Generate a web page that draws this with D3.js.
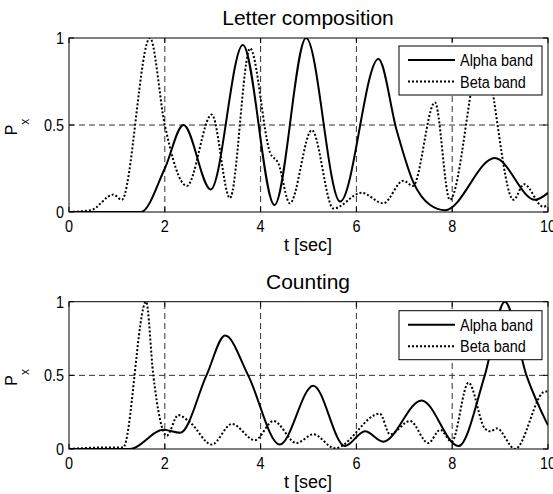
<!DOCTYPE html>
<html>
<head>
<meta charset="utf-8">
<script src="https://cdn.jsdelivr.net/npm/d3@7"></script>
<style>
  body { margin: 0; background: #fff; }
  text { fill: #000; }
  .tick-lbl { font-family: "Liberation Sans", Arial, sans-serif; font-size: 17px; }
  .ttl { font-family: "Liberation Sans", Arial, sans-serif; font-size: 21px; }
  .axl { font-family: "Liberation Sans", Arial, sans-serif; font-size: 18px; }
</style>
</head>
<body>
<div id="chart"></div>
<script>
// Letter composition panel
var letterAlphaT = [0, 1.5, 2.0, 2.39, 2.96, 3.63, 4.29, 4.95, 5.66, 6.46, 6.84, 7.19, 7.54, 7.85, 8.89, 9.73, 10]
var letterAlphaP = [0, 0, 0.25, 0.5, 0.13, 0.96, 0.04, 1.0, 0.06, 0.88, 0.47, 0.17, 0.04, 0.01, 0.31, 0.07, 0.11]
var letterBetaT = [0, 0.45, 0.93, 1.1, 1.69, 2.0, 2.46, 2.98, 3.36, 3.78, 4.2, 4.37, 4.61, 5.07, 5.52, 6.11, 6.56, 6.98, 7.18, 7.64, 7.95, 8.62, 9.28, 9.5, 9.9, 10]
var letterBetaP = [0, 0.01, 0.1, 0.07, 1.0, 0.5, 0.15, 0.56, 0.08, 0.94, 0.34, 0.28, 0.05, 0.47, 0.02, 0.11, 0.05, 0.18, 0.15, 0.63, 0.07, 0.92, 0.07, 0.16, 0.03, 0.04]

// Counting panel
var countAlphaT = [0, 1.27, 1.97, 2.32, 2.87, 3.26, 3.74, 4.4, 5.1, 5.76, 6.18, 6.56, 7.36, 8.13, 8.68, 9.1, 9.55, 10]
var countAlphaP = [0, 0, 0.13, 0.11, 0.5, 0.77, 0.5, 0.03, 0.43, 0.02, 0.12, 0.05, 0.33, 0.02, 0.5, 1.0, 0.5, 0.16]
var countBetaT = [0, 0.7, 1.13, 1.61, 1.76, 2.04, 2.28, 2.53, 2.98, 3.4, 3.88, 4.27, 4.75, 5.1, 5.55, 6.49, 6.7, 7.12, 7.5, 7.75, 7.99, 8.34, 8.68, 8.8, 8.93, 9.31, 9.94, 10]
var countBetaP = [0, 0.01, 0.01, 1.0, 0.5, 0.09, 0.23, 0.18, 0.03, 0.17, 0.06, 0.19, 0.04, 0.1, 0.005, 0.24, 0.1, 0.19, 0.04, 0.13, 0.05, 0.45, 0.14, 0.12, 0.14, 0.0, 0.39, 0.39]

var xTicks = [0, 2, 4, 6, 8, 10]
var yTicks = [0, 0.5, 1]
var xGrid = [2, 4, 6, 8]
var yGrid = [0.5]
var seriesNames = ['Alpha band', 'Beta band']

var width = 553, height = 494
var squeeze = 0.85   // the small labels look horizontally compressed

var svg = d3.select('#chart')
    .append('svg')
    .attr('width', width)
    .attr('height', height)

function zip(t, p) {
    return t.map(function(d, i) { return [d, p[i]] })
}

function smallText(sel, x, y, anchor, str) {
    return sel.append('text')
        .attr('class', 'tick-lbl')
        .attr('transform', 'translate(' + x + ',' + y + ') scale(' + squeeze + ',1)')
        .attr('text-anchor', anchor)
        .text(str)
}

function panel(opts) {
    var x = d3.scaleLinear().domain([0, 10]).range([69, 548])
    var y = d3.scaleLinear().domain([0, 1]).range([opts.bottom, opts.top])

    var g = svg.append('g')

    g.append('clipPath')
        .attr('id', opts.id)
        .append('rect')
        .attr('x', x(0)).attr('y', y(1))
        .attr('width', x(10) - x(0)).attr('height', y(0) - y(1))

    // grid
    g.selectAll('.vgrid')
        .data(xGrid)
        .enter()
        .append('line')
        .attr('x1', d => x(d)).attr('x2', d => x(d))
        .attr('y1', y(0)).attr('y2', y(1))
        .attr('stroke', '#333')
        .attr('stroke-width', 1)
        .attr('stroke-dasharray', '6,4')

    g.selectAll('.hgrid')
        .data(yGrid)
        .enter()
        .append('line')
        .attr('y1', d => y(d)).attr('y2', d => y(d))
        .attr('x1', x(0)).attr('x2', x(10))
        .attr('stroke', '#333')
        .attr('stroke-width', 1)
        .attr('stroke-dasharray', '6,4')

    var line = d3.line()
        .x(d => x(d[0]))
        .y(d => y(d[1]))
        .curve(d3.curveMonotoneX)

    var lines = g.append('g').attr('clip-path', 'url(#' + opts.id + ')')

    lines.append('path')
        .datum(zip(opts.betaT, opts.betaP))
        .attr('d', line)
        .attr('fill', 'none')
        .attr('stroke', '#000')
        .attr('stroke-width', 2)
        .attr('stroke-dasharray', '2,2')

    lines.append('path')
        .datum(zip(opts.alphaT, opts.alphaP))
        .attr('d', line)
        .attr('fill', 'none')
        .attr('stroke', '#000')
        .attr('stroke-width', 2)

    // box
    g.append('rect')
        .attr('x', x(0)).attr('y', y(1))
        .attr('width', x(10) - x(0)).attr('height', y(0) - y(1))
        .attr('fill', 'none')
        .attr('stroke', '#000')
        .attr('stroke-width', 1)

    // inner ticks
    var tl = 5
    xTicks.forEach(function(t) {
        g.append('line').attr('x1', x(t)).attr('x2', x(t)).attr('y1', y(0)).attr('y2', y(0) - tl).attr('stroke', '#000')
        g.append('line').attr('x1', x(t)).attr('x2', x(t)).attr('y1', y(1)).attr('y2', y(1) + tl).attr('stroke', '#000')
        smallText(g, x(t), y(0) + 20, 'middle', t)
    })
    yTicks.forEach(function(t) {
        g.append('line').attr('x1', x(0)).attr('x2', x(0) + tl).attr('y1', y(t)).attr('y2', y(t)).attr('stroke', '#000')
        g.append('line').attr('x1', x(10)).attr('x2', x(10) - tl).attr('y1', y(t)).attr('y2', y(t)).attr('stroke', '#000')
        smallText(g, x(0) - 5, y(t) + 6, 'end', t)
    })

    g.append('text')
        .attr('class', 'ttl')
        .attr('x', 308)
        .attr('y', opts.top - 13)
        .attr('text-anchor', 'middle')
        .text(opts.title)

    g.append('text')
        .attr('class', 'axl')
        .attr('x', 308)
        .attr('y', y(0) + 39)
        .attr('text-anchor', 'middle')
        .text('t [sec]')

    var py = g.append('text')
        .attr('class', 'axl')
        .attr('transform', 'translate(17,' + (y(0.5) + 2) + ') rotate(-90)')
        .attr('text-anchor', 'middle')
        .style('font-size', '16px')
    py.append('tspan').text('P')
    py.append('tspan').attr('dy', 12).style('font-size', '12px').text('x')

    // legend
    var lg = g.append('g').attr('transform', 'translate(399,' + (opts.top + opts.legOff) + ')')
    lg.append('rect')
        .attr('width', 143).attr('height', 49)
        .attr('fill', '#fff')
        .attr('stroke', '#000')
        .attr('stroke-width', 1)
    seriesNames.forEach(function(name, i) {
        var ly = 14 + i * 21.5
        lg.append('line')
            .attr('x1', 9).attr('x2', 56)
            .attr('y1', ly).attr('y2', ly)
            .attr('stroke', '#000')
            .attr('stroke-width', 2)
            .attr('stroke-dasharray', i == 1 ? '2,2' : null)
        smallText(lg, 61, ly + 6, 'start', name)
    })
}

panel({
    id: 'clipTop', top: 38, bottom: 212, legOff: 8, title: 'Letter composition',
    alphaT: letterAlphaT, alphaP: letterAlphaP, betaT: letterBetaT, betaP: letterBetaP
})

panel({
    id: 'clipBot', top: 301.7, bottom: 449, legOff: 9, title: 'Counting',
    alphaT: countAlphaT, alphaP: countAlphaP, betaT: countBetaT, betaP: countBetaP
})
</script>
</body>
</html>
